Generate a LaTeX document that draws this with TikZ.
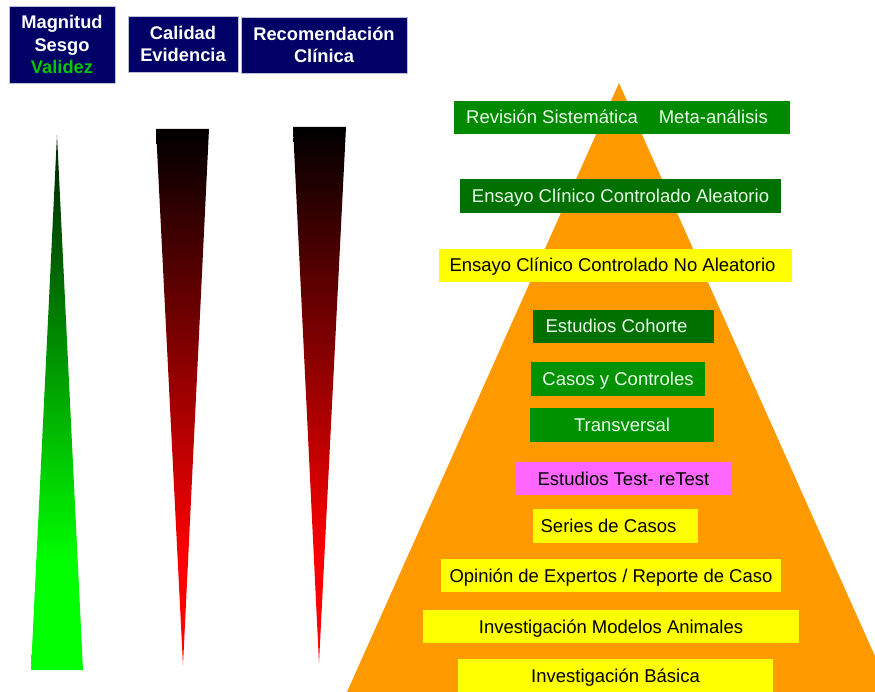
\documentclass[tikz,border=0pt]{standalone}
\usepackage{fontspec}
\setmainfont{Liberation Sans}
\definecolor{navyb}{RGB}{0,0,102}
\definecolor{navyedge}{RGB}{190,190,215}
\definecolor{validgreen}{RGB}{0,200,0}
\definecolor{pyramid}{RGB}{255,153,0}
\definecolor{greenA}{RGB}{0,138,0}
\definecolor{greenB}{RGB}{0,112,0}
\definecolor{greenC}{RGB}{0,146,0}
\definecolor{lighttext}{RGB}{232,255,232}
\definecolor{pinkbox}{RGB}{255,102,255}
\definecolor{yellowbox}{RGB}{255,255,0}
\definecolor{wedgered}{RGB}{255,0,0}
\definecolor{wedgegreen}{RGB}{0,255,0}
\definecolor{wedgedark}{RGB}{0,32,0}
\pgfdeclareverticalshading{redwedge}{100bp}{color(0bp)=(wedgered); color(35bp)=(wedgered); color(75bp)=(black); color(100bp)=(black)}
\pgfdeclareverticalshading{greenwedge}{100bp}{color(0bp)=(wedgegreen); color(35bp)=(wedgegreen); color(75bp)=(wedgedark); color(100bp)=(wedgedark)}
\newcommand{\padright}[1]{\rule{#1}{0pt}}
\begin{document}
\begin{tikzpicture}[x=1pt,y=-1pt,
  headbox/.style={rectangle, fill=navyb, draw=navyedge, line width=0.7pt, inner sep=0pt,
     text=white, align=center, font=\bfseries\fontsize{18.3}{22.5}\selectfont},
  levelbox/.style={rectangle, inner sep=0pt, text height=13pt, text depth=0pt,
     font=\fontsize{18.5}{21}\selectfont},
  greenbox/.style={levelbox, text=lighttext},
  yellowlevel/.style={levelbox, fill=yellowbox, text=black},
  pinklevel/.style={levelbox, fill=pinkbox, text=black}
]
\useasboundingbox (0,0) rectangle (875,692);

% header boxes
\node[headbox, minimum width=106pt, minimum height=77pt] (hmag) at (62,44.5)
  {Magnitud\\Sesgo\\\textcolor{validgreen}{Validez}};
\node[headbox, minimum width=110pt, minimum height=56pt] (hcal) at (183,44)
  {Calidad\\Evidencia};
\node[headbox, minimum width=166pt, minimum height=56pt] (hrec) at (324,45)
  {Recomendación\\Clínica};

% gradient wedges
\shade[shading=greenwedge] (57,135) -- (31,670) -- (83,670) -- cycle;
\shade[shading=redwedge] (156,129) -- (209,129) -- (183,665) -- cycle;
\shade[shading=redwedge] (293,127) -- (346,127) -- (319,663) -- cycle;

% pyramid
\begin{scope}
  \clip (0,0) rectangle (875,692);
  \fill[pyramid] (619,83) -- (347,692) -- (891,692) -- cycle;
\end{scope}

% levels
\node[greenbox, fill=greenA, minimum width=336pt, minimum height=33pt] (rs) at (622,117.5)
  {Revisión Sistemática\hspace{21pt}Meta-análisis\padright{10pt}};
\node[greenbox, fill=greenB, minimum width=321pt, minimum height=34pt] (eca) at (620.5,196)
  {Ensayo Clínico Controlado Aleatorio};
\node[yellowlevel, minimum width=353pt, minimum height=33pt] (ecna) at (615.5,265.5)
  {Ensayo Clínico Controlado No Aleatorio\padright{6pt}};
\node[greenbox, fill=greenB, minimum width=181pt, minimum height=33pt] (coh) at (623.5,326.5)
  {Estudios Cohorte\padright{14pt}};
\node[greenbox, fill=greenC, minimum width=174pt, minimum height=34pt] (cyc) at (618,379)
  {Casos y Controles};
\node[greenbox, fill=greenC, minimum width=184pt, minimum height=34pt] (tra) at (622,425)
  {Transversal};
\node[pinklevel, minimum width=215pt, minimum height=33pt] (trt) at (623.5,478.5)
  {Estudios Test- reTest};
\node[yellowlevel, minimum width=165pt, minimum height=34pt] (ser) at (615.5,526)
  {Series de Casos\padright{14pt}};
\node[yellowlevel, minimum width=340pt, minimum height=33pt] (opi) at (611,575.5)
  {Opinión de Expertos / Reporte de Caso};
\node[yellowlevel, minimum width=376pt, minimum height=33pt] (ani) at (611,626.5)
  {Investigación Modelos Animales};
\node[yellowlevel, minimum width=315pt, minimum height=33pt] (bas) at (615.5,675.5)
  {Investigación Básica};
\end{tikzpicture}
\end{document}
